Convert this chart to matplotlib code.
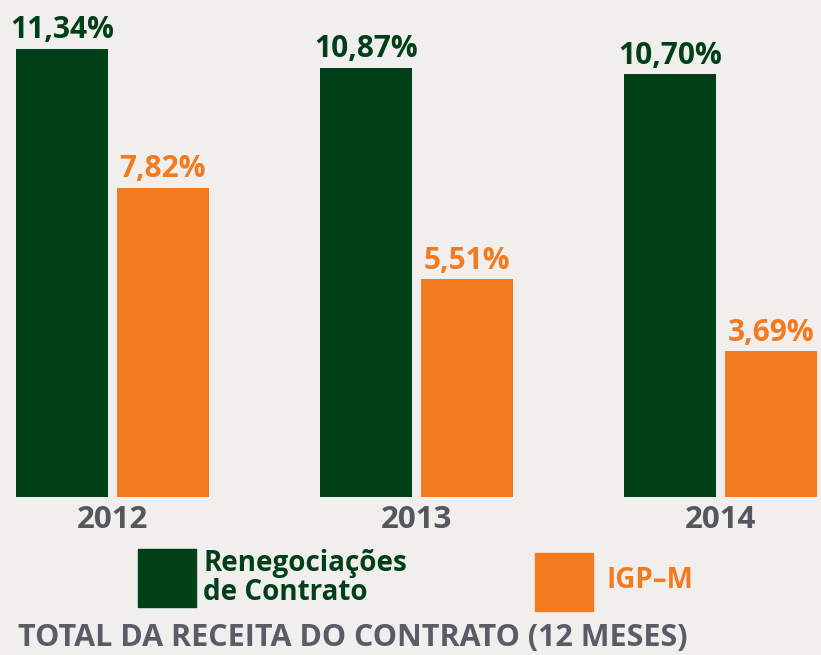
import matplotlib.pyplot as plt
from matplotlib.patches import Rectangle
import numpy as np

# data
anos = ['2012', '2013', '2014']
renegociacoes = [11.34, 10.87, 10.70]
igpm = [7.82, 5.51, 3.69]

verde = '#003f18'
laranja = '#f47a20'
fundo = '#f0efed'
cinza = '#56565c'

plt.rcParams['font.family'] = ['Open Sans', 'DejaVu Sans']

W, H = 821, 655
fig = plt.figure(figsize=(W / 100, H / 100), dpi=100, facecolor=fundo)

# axes spans full width, bottom at the bar baseline (y=497 px)
ax = fig.add_axes([0, (H - 497) / H, 1, 497 / H])
ax.set_facecolor('none')

x = np.arange(len(anos))
larg = 0.3026
desl = 0.166
ax.bar(x - desl, renegociacoes, width=larg, color=verde)
ax.bar(x + desl, igpm, width=larg, color=laranja)

ax.set_xlim(-0.370, 2.3306)
ax.set_ylim(0, 497 / 39.5)

def fmt(v):
    return f'{v:.2f}'.replace('.', ',') + '%'

for xi, v in zip(x, renegociacoes):
    ax.text(xi - desl, v + 0.27, fmt(v), ha='center', va='baseline',
            fontsize=21.5, fontweight='bold', color=verde)
for xi, v in zip(x, igpm):
    ax.text(xi + desl, v + 0.27, fmt(v), ha='center', va='baseline',
            fontsize=21.5, fontweight='bold', color=laranja)

ax.set_xticks(x)
ax.set_xticklabels(anos, fontsize=22.5, fontweight='bold', color=cinza)
ax.tick_params(axis='x', length=0, pad=6)
ax.set_yticks([])
for s in ax.spines.values():
    s.set_visible(False)

# legend
def px(xp, yp):
    return xp / W, 1 - yp / H

fig.patches.append(Rectangle(px(138, 607), 58 / W, 58 / H, transform=fig.transFigure,
                             color=verde, zorder=3))
fig.patches.append(Rectangle(px(535, 611), 58 / W, 58 / H, transform=fig.transFigure,
                             color=laranja, zorder=3))
fig.text(*px(203, 578), 'Renegociações\nde Contrato', ha='left', va='center',
         fontsize=20, fontweight='bold', color=verde, linespacing=1.0)
fig.text(*px(606, 581), 'IGP–M', ha='left', va='center',
         fontsize=20, fontweight='bold', color=laranja)

fig.text(*px(18, 638), 'TOTAL DA RECEITA DO CONTRATO (12 MESES)', ha='left', va='center',
         fontsize=22, fontweight='bold', color='#5b5b66')

fig.savefig('out.png', dpi=100, facecolor=fundo)
